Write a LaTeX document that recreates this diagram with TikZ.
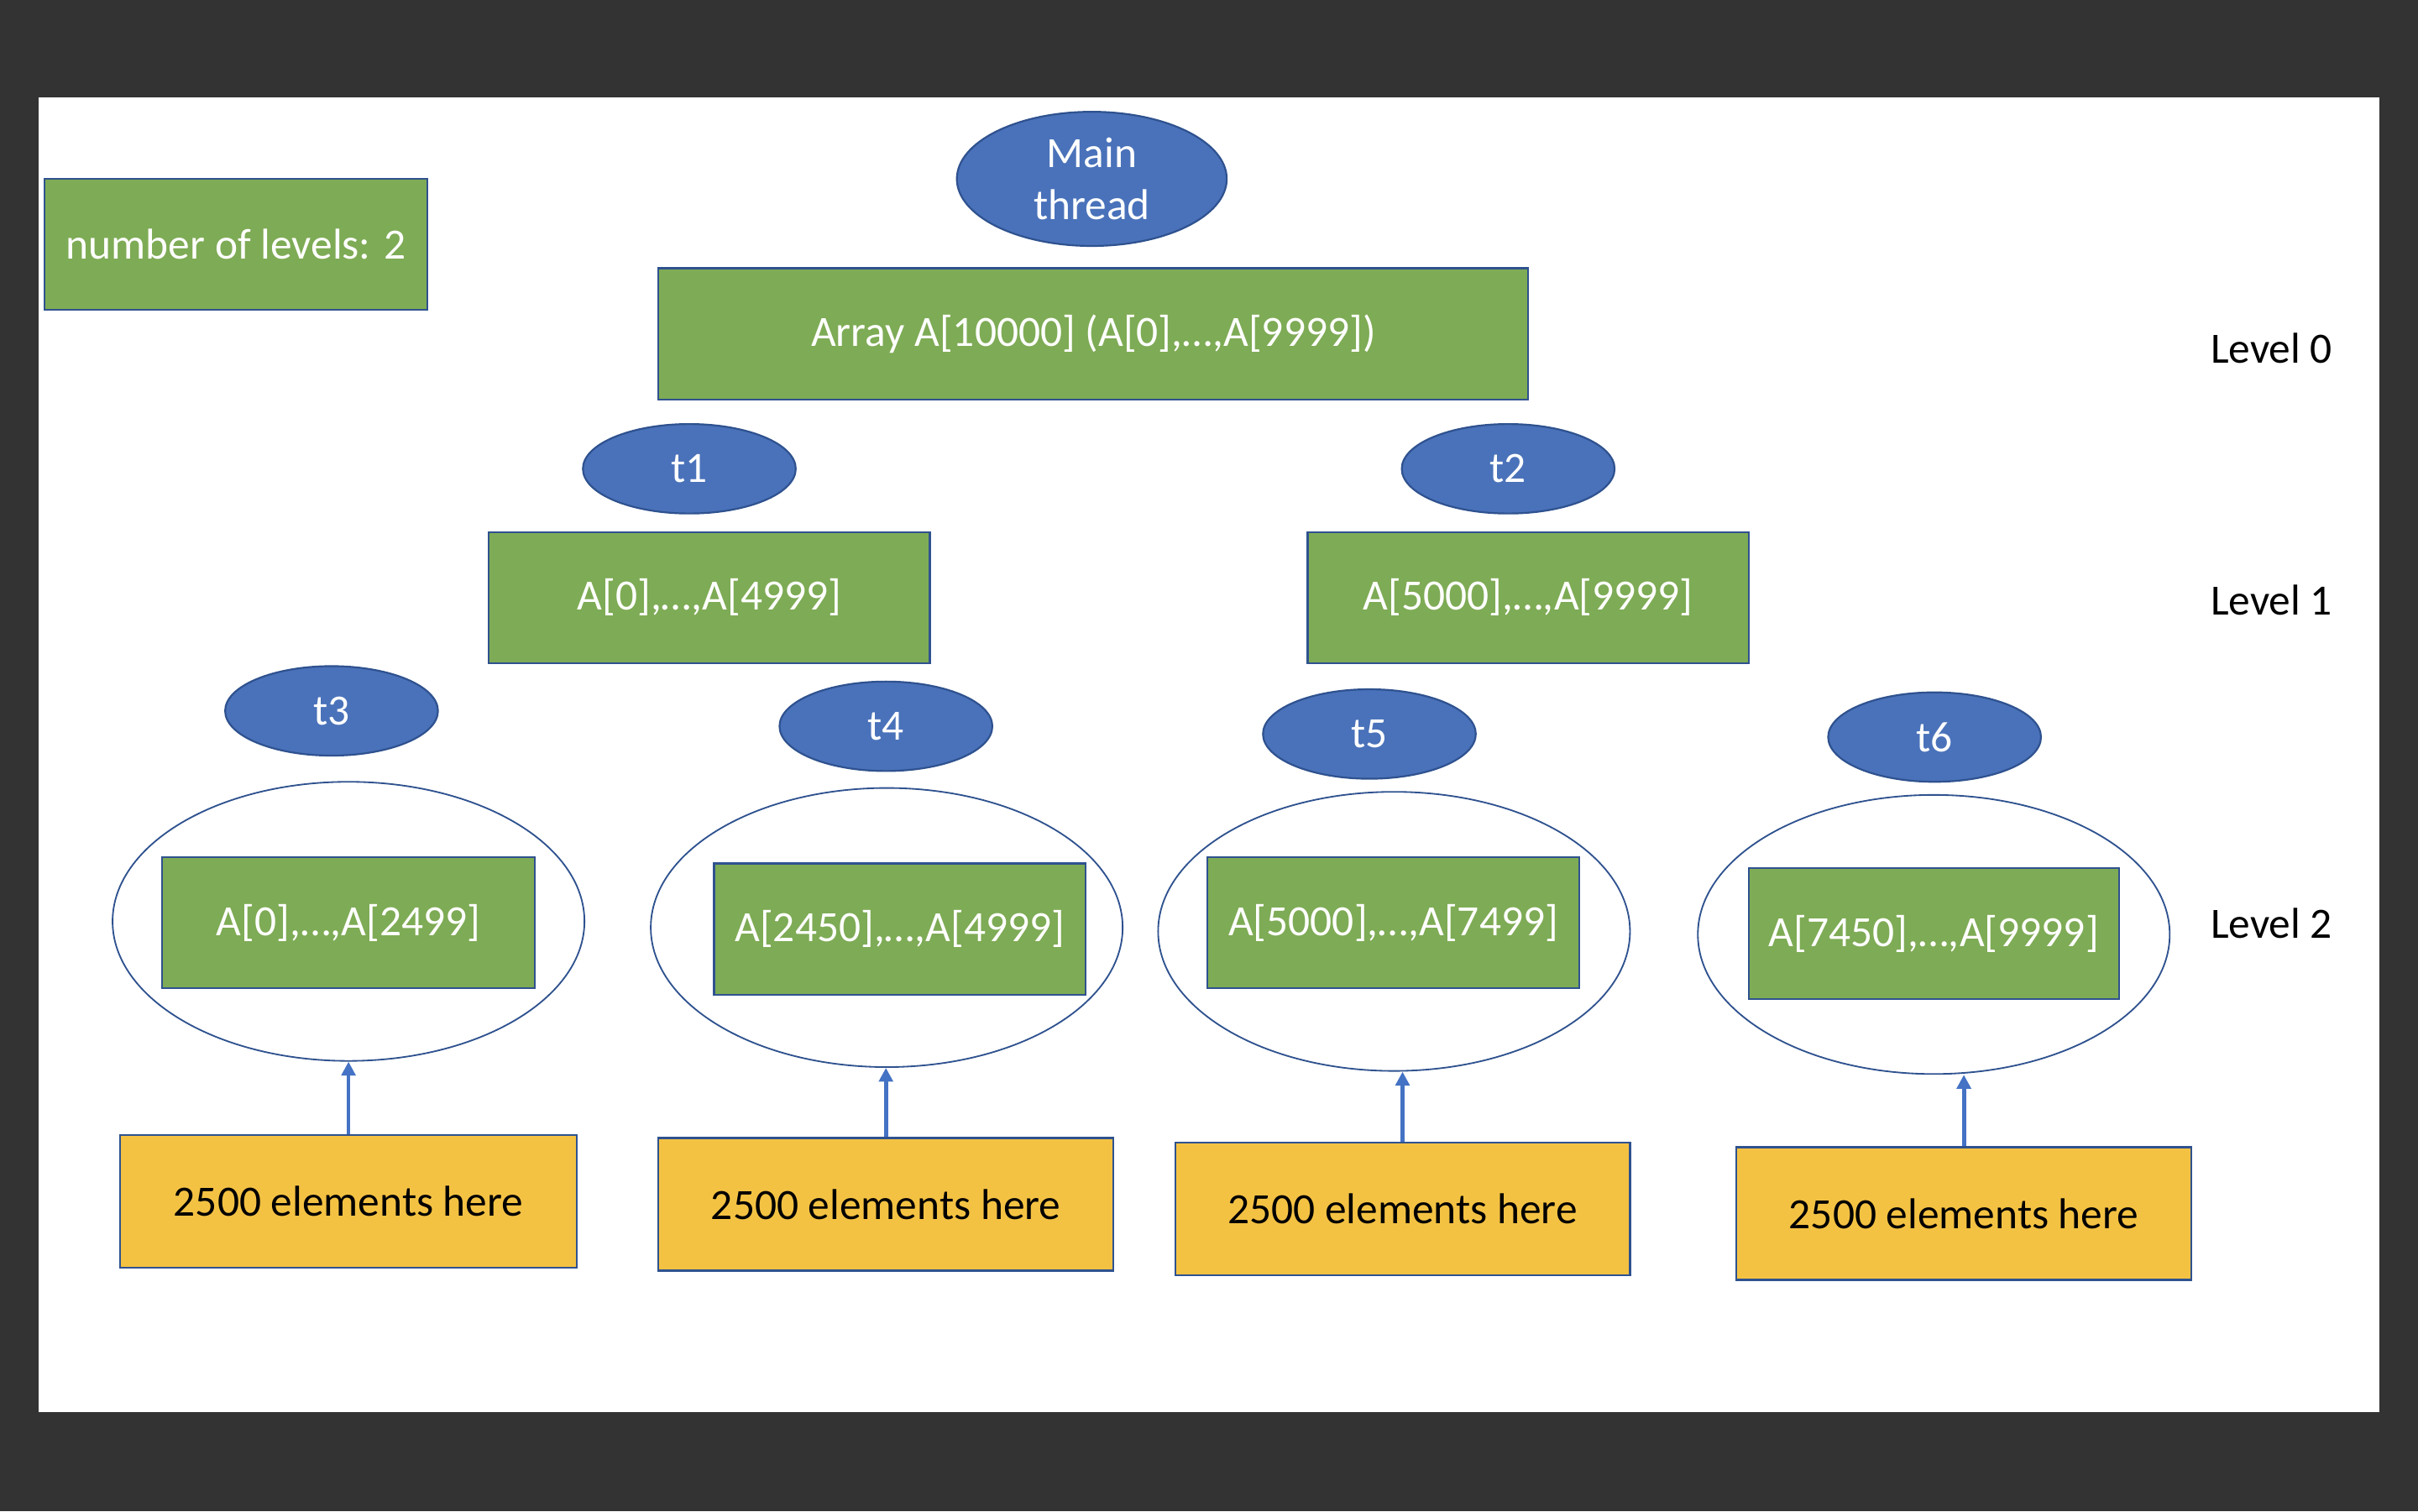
\documentclass[tikz,border=0pt]{standalone}
\usepackage{fontspec}
\setmainfont{Carlito}
\usetikzlibrary{arrows.meta,shapes.geometric}
\definecolor{bgdark}{HTML}{333333}
\definecolor{boxgreen}{HTML}{7EAB55}
\definecolor{boxyellow}{HTML}{F4C243}
\definecolor{threadblue}{HTML}{4A72BA}
\definecolor{edgeblue}{HTML}{2F528F}
\definecolor{arrowblue}{HTML}{4472C4}
\tikzset{
	greenbox/.style={draw=edgeblue, line width=1.2pt, fill=boxgreen, text=white, inner sep=0pt, minimum height=85pt},
	yellowbox/.style={draw=edgeblue, line width=1.2pt, fill=boxyellow, text=black, inner sep=0pt, minimum width=295pt, minimum height=86pt},
	threadnode/.style={ellipse, draw=edgeblue, line width=1.2pt, fill=threadblue, text=white, inner sep=0pt, minimum width=138pt, minimum height=58pt},
	groupnode/.style={ellipse, draw=edgeblue, line width=1pt, inner sep=0pt, minimum width=306pt, minimum height=181pt},
	levellabel/.style={text=black, inner sep=0pt},
	feed/.style={-{Triangle[length=9pt,width=9pt]}, line width=2.6pt, draw=arrowblue}
}

\begin{document}
\begin{tikzpicture}[x=1pt, y=-1pt, font=\fontsize{28}{33.6}\selectfont]
		%%%%% START %%%%%
		
		\fill[bgdark] (0, 0) rectangle (1568, 980);
		\fill[white] (25, 63) rectangle (1543, 916);
		
		\node[greenbox, minimum width=248pt] (levels) at (153, 158.5) {number of levels: 2};
		
		\node[threadnode, minimum width=175pt, minimum height=87pt, align=center] (main) at (708, 116) {Main\\thread};
		\node[greenbox, minimum width=564pt] (arr) at (709, 216.5) {Array A[10000] (A[0],…,A[9999])};
		
		\node[threadnode] (t1) at (447, 304) {t1};
		\node[threadnode] (t2) at (978, 304) {t2};
		\node[greenbox, minimum width=286pt] (left) at (460, 387.5) {A[0],…,A[4999]};
		\node[greenbox, minimum width=286pt] (right) at (991, 387.5) {A[5000],…,A[9999]};
		
		\node[levellabel] (lv0) at (1473, 226) {Level 0};
		\node[levellabel] (lv1) at (1473, 389) {Level 1};
		\node[levellabel] (lv2) at (1473, 599) {Level 2};
		
		\node[threadnode] (t3) at (215, 461) {t3};
		\node[threadnode] (t4) at (574.5, 471) {t4};
		\node[threadnode] (t5) at (888, 476) {t5};
		\node[threadnode] (t6) at (1254.5, 478) {t6};
		
		\node[groupnode] (g1) at (226, 597.5) {};
		\node[groupnode] (g2) at (575, 601.5) {};
		\node[groupnode] (g3) at (904, 604) {};
		\node[groupnode] (g4) at (1254, 606) {};
		
		\node[greenbox, minimum width=242pt] (q1) at (226, 598.5) {A[0],…,A[2499]};
		\node[greenbox, minimum width=241pt] (q2) at (583.5, 602.5) {A[2450],…,A[4999]};
		\node[greenbox, minimum width=241pt] (q3) at (903.5, 598.5) {A[5000],…,A[7499]};
		\node[greenbox, minimum width=240pt] (q4) at (1254, 605.5) {A[7450],…,A[9999]};
		
		\node[yellowbox, minimum width=296pt] (y1) at (226, 779) {2500 elements here};
		\node[yellowbox] (y2) at (574.5, 781) {2500 elements here};
		\node[yellowbox] (y3) at (909.5, 784) {2500 elements here};
		\node[yellowbox] (y4) at (1273.5, 787) {2500 elements here};
		
		\draw[feed] (y1.north) -- (y1.north |- g1.south);
		\draw[feed] (y2.north) -- (y2.north |- g2.south);
		\draw[feed] (y3.north) -- (y3.north |- g3.south);
		\draw[feed] (y4.north) -- (y4.north |- g4.south);
		
		%%%%% END %%%%%
\end{tikzpicture}
\end{document}
